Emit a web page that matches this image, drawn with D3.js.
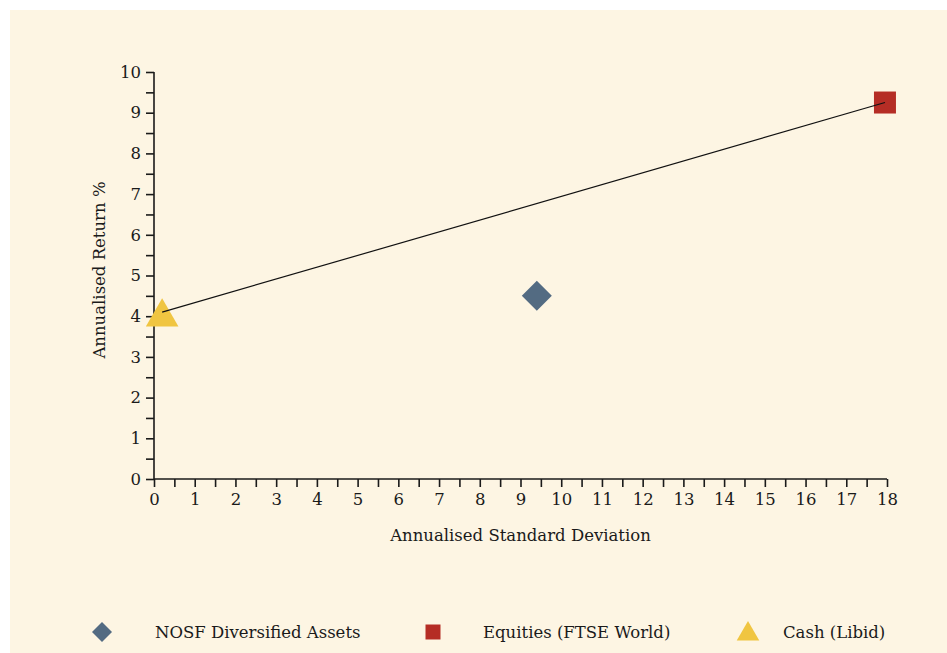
<!DOCTYPE html>
<html>
<head>
<meta charset="utf-8">
<script src="https://cdn.jsdelivr.net/npm/d3@7"></script>
<style>
html,body{margin:0;padding:0;background:#ffffff;}
svg{display:block;}
text{font-family:"DejaVu Serif",serif;fill:#1a1a1a;}
</style>
</head>
<body>
<svg id="chart" width="947" height="653"></svg>
<script>
const seriesNames = ["NOSF Diversified Assets", "Equities (FTSE World)", "Cash (Libid)"];
const stdDev = [9.4, 17.95, 0.2];
const returns = [4.5, 9.25, 4.1];
const colors = ["#536b82", "#b52d25", "#f0c541"];
const shapes = ["diamond", "square", "triangle"];
const xTicks = d3.range(0, 19, 1);
const yTicks = d3.range(0, 11, 1);
const lineSeries = [2, 1]; // line drawn from Cash to Equities

const svg = d3.select("#chart");
svg.append("rect").attr("x",10).attr("y",10).attr("width",937).attr("height",643).attr("fill","#fdf5e3");

const x = d3.scaleLinear().domain([0,18]).range([154,887]);
const y = d3.scaleLinear().domain([0,10]).range([479,72]);

const fontSize = 16.5;
const tickFont = 16.5;

const xAxis = svg.append("g").attr("transform","translate(0,479)")
  .call(d3.axisBottom(x).tickValues(d3.range(0,18.01,0.5)).tickSize(8).tickPadding(6)
    .tickFormat(d => Number.isInteger(d) ? d : ""));
const yAxis = svg.append("g").attr("transform","translate(154,0)")
  .call(d3.axisLeft(y).tickValues(d3.range(0,10.01,0.5)).tickSize(8).tickPadding(5)
    .tickFormat(d => Number.isInteger(d) ? d : ""));
[xAxis,yAxis].forEach(g=>{
  g.select(".domain").attr("stroke","#1a1a1a").attr("stroke-width",1.6);
  g.selectAll(".tick line").attr("stroke","#1a1a1a").attr("stroke-width",1.6);
  g.selectAll(".tick text").attr("font-family","DejaVu Serif").attr("font-size",tickFont).attr("fill","#1a1a1a");
});
xAxis.select(".domain").attr("d","M154,0H887");
yAxis.select(".domain").attr("d","M0,479V72");

svg.append("text").attr("x",520.5).attr("y",541).attr("text-anchor","middle")
  .attr("font-size",fontSize).text("Annualised Standard Deviation");
svg.append("text").attr("transform","translate(105,270) rotate(-90)").attr("text-anchor","middle")
  .attr("font-size",fontSize).text("Annualised Return %");

function shapePath(shape, size){
  const sym = shape==="triangle" ? d3.symbolTriangle : d3.symbolSquare;
  return d3.symbol().type(sym).size(size)();
}

const markerSizes = {diamond: 450, square: 484, triangle: 460};
const gm = svg.append("g");
[0,1,2].forEach(i=>{
  const s = shapes[i];
  const p = gm.append("path").attr("d", shapePath(s, markerSizes[s])).attr("fill", colors[i]);
  if(s==="diamond") p.attr("transform",`translate(${x(stdDev[i])},${y(returns[i])}) rotate(45)`);
  else if(s==="triangle") p.attr("transform",`translate(${x(stdDev[i])},${y(returns[i])+5})`);
  else p.attr("transform",`translate(${x(stdDev[i])},${y(returns[i])})`);
});

svg.append("line")
  .attr("x1",x(stdDev[lineSeries[0]])).attr("y1",y(returns[lineSeries[0]]))
  .attr("x2",x(stdDev[lineSeries[1]])).attr("y2",y(returns[lineSeries[1]]))
  .attr("stroke","#111").attr("stroke-width",1.2);

const legendMarkerX = [102, 433, 748];
const legendTextX = [155, 483, 783];
const legendY = 632;
const legendSizes = {diamond: 200, square: 225, triangle: 220};
seriesNames.forEach((n,i)=>{
  const s = shapes[i];
  const p = svg.append("path").attr("d", shapePath(s, legendSizes[s])).attr("fill", colors[i]);
  if(s==="diamond") p.attr("transform",`translate(${legendMarkerX[i]},${legendY}) rotate(45)`);
  else if(s==="triangle") p.attr("transform",`translate(${legendMarkerX[i]},${legendY+2})`);
  else p.attr("transform",`translate(${legendMarkerX[i]},${legendY})`);
  svg.append("text").attr("x",legendTextX[i]).attr("y",legendY+6).attr("font-size",fontSize).text(n);
});
</script>
</body>
</html>
